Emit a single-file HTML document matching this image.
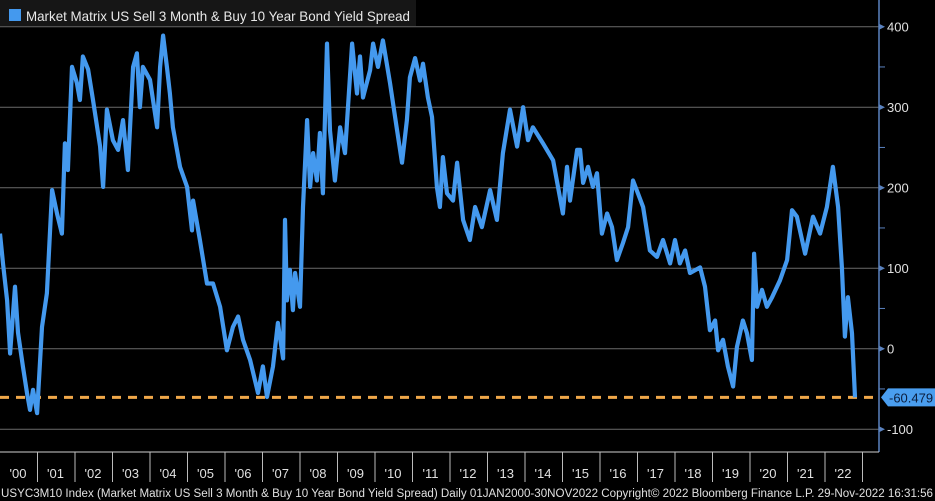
<!DOCTYPE html>
<html><head><meta charset="utf-8"><style>
html,body{margin:0;padding:0;background:#000;width:935px;height:501px;overflow:hidden}
svg{display:block;font-family:"Liberation Sans",sans-serif}
</style></head><body>
<svg id="chart" width="935" height="501" viewBox="0 0 935 501">
<rect x="0" y="0" width="935" height="501" fill="#000"/>
<g id="grid"></g>
<g id="yaxis"></g>
<g id="xaxis"></g>
<line id="refline" stroke="#f0a84a" stroke-width="3" stroke-dasharray="9,7"/>
<path id="series" fill="none" stroke="#4499ee" stroke-width="4.2" stroke-linejoin="round"/>
<g id="lastlabel"></g>
<g>
<rect x="0" y="0" width="416" height="26" fill="#161616"/>
<rect x="9" y="9" width="12" height="12" fill="#4499ee"/>
<text x="26" y="21" font-size="14" fill="#e8e8e8" textLength="384" lengthAdjust="spacingAndGlyphs">Market Matrix US Sell 3 Month &amp; Buy 10 Year Bond Yield Spread</text>
</g>
<text x="1" y="497" font-size="11.5" fill="#e0e0e0" textLength="932" lengthAdjust="spacingAndGlyphs">USYC3M10 Index (Market Matrix US Sell 3 Month &amp; Buy 10 Year Bond Yield Spread)  Daily 01JAN2000-30NOV2022  Copyright© 2022 Bloomberg Finance L.P.  29-Nov-2022 16:31:56</text>
</svg>
<script>
const years = [0,0.08,0.19,0.27,0.4,0.48,0.61,0.72,0.8,0.88,0.99,1.12,1.25,1.39,1.52,1.65,1.73,1.81,1.92,2.05,2.13,2.21,2.35,2.48,2.67,2.75,2.85,3.01,3.15,3.28,3.41,3.55,3.65,3.73,3.81,4,4.19,4.27,4.35,4.45,4.53,4.61,4.8,4.99,5.12,5.15,5.33,5.52,5.68,5.87,6.05,6.21,6.35,6.48,6.67,6.88,7.01,7.12,7.28,7.41,7.55,7.6,7.65,7.73,7.81,7.87,8,8.08,8.19,8.27,8.35,8.45,8.53,8.61,8.72,8.8,8.93,9.07,9.2,9.39,9.52,9.6,9.68,9.87,9.95,10.08,10.21,10.4,10.59,10.72,10.85,10.93,11.07,11.2,11.28,11.41,11.52,11.65,11.73,11.81,11.92,12.08,12.19,12.35,12.53,12.67,12.85,13.07,13.25,13.41,13.6,13.79,13.95,14.08,14.21,14.48,14.75,15.01,15.12,15.2,15.39,15.47,15.55,15.68,15.81,15.92,16.05,16.19,16.32,16.45,16.61,16.75,16.88,17.01,17.15,17.33,17.52,17.68,17.87,18,18.13,18.27,18.4,18.67,18.8,18.93,19.07,19.15,19.28,19.41,19.55,19.65,19.81,19.92,20.05,20.11,20.19,20.32,20.45,20.59,20.8,20.99,21.12,21.25,21.47,21.68,21.87,22.05,22.21,22.35,22.45,22.53,22.61,22.72,22.8];
const values = [143,106,60,-6,77,20,-22,-55,-76,-51,-80,27,69,197,168,143,255,222,350,330,309,363,347,309,251,201,297,259,247,284,222,350,367,300,350,334,275,350,389,350,317,275,226,201,147,184,135,81,81,52,-2,27,40,11,-14,-55,-22,-60,-22,32,-12,160,60,98,48,94,52,176,284,201,243,209,268,193,379,271,209,275,243,379,317,363,312,346,379,350,383,330,271,231,284,337,361,333,354,312,288,201,176,238,193,184,231,160,135,176,151,197,160,243,297,251,300,259,275,255,234,168,226,184,247,247,206,226,201,218,143,168,151,110,131,151,209,193,176,122,114,135,106,135,106,122,94,101,77,23,35,-2,11,-22,-47,2,35,19,-14,118,52,73,52,64,85,110,172,164,118,164,143,176,226,176,101,15,64,19,-60.479];
const yTicks = [400,300,200,100,0,-100];
const yMinor = [350,250,150,50,-50];
const yearLabels = ["'00","'01","'02","'03","'04","'05","'06","'07","'08","'09","'10","'11","'12","'13","'14","'15","'16","'17","'18","'19","'20","'21","'22"];
const lastValue = -60.479;

const NS = "http://www.w3.org/2000/svg";
const X0 = 0, PXY = 37.5, AXISX = 879;
const xScale = t => X0 + t * PXY;
const yScale = v => 348.7 - v * 0.805;
function mk(tag, attrs, parent) {
  const el = document.createElementNS(NS, tag);
  for (const k in attrs) el.setAttribute(k, attrs[k]);
  parent.appendChild(el);
  return el;
}
const grid = document.getElementById('grid');
const yaxis = document.getElementById('yaxis');
const xaxis = document.getElementById('xaxis');

const al = mk('line', {x1: AXISX, x2: AXISX, y1: 0, y2: 452, stroke: '#5a82bf', 'stroke-width': 1.5}, yaxis);



yTicks.forEach(v => {
  const y = yScale(v);
  const g = mk('line', {x1: 0, x2: AXISX, y1: y, y2: y, stroke: '#6a6a6a', 'stroke-width': 1}, grid);
  
  
  const m = mk('path', {d: `M${AXISX} ${y - 3}L${AXISX + 6} ${y}L${AXISX} ${y + 3}Z`, fill: '#5a82bf'}, yaxis);
  
  
  const t = mk('text', {x: AXISX + 8, y: y + 5, 'font-size': 13, fill: '#e0e0e0'}, yaxis);
  t.textContent = v;
  
  
});
yMinor.forEach(v => {
  const y = yScale(v);
  const m = mk('line', {x1: AXISX, x2: AXISX + 6, y1: y, y2: y, stroke: '#5a82bf', 'stroke-width': 1}, yaxis);
  
  
});

const bl = mk('line', {x1: 0, x2: AXISX, y1: 452, y2: 452, stroke: '#d0d0d0', 'stroke-width': 1}, xaxis);


yearLabels.forEach((lab, i) => {
  const xs = xScale(i + 1);
  const s = mk('line', {x1: xs, x2: xs, y1: 452, y2: 482, stroke: '#bbbbbb', 'stroke-width': 1}, xaxis);
  
  
  const t = mk('text', {x: xScale(i) + 18, y: 478, 'font-size': 13, fill: '#e0e0e0', 'text-anchor': 'middle'}, xaxis);
  t.textContent = lab;
  
  
});

let d = '';
years.forEach((t, i) => { d += (i ? 'L' : 'M') + xScale(t).toFixed(1) + ' ' + yScale(values[i]).toFixed(1); });
document.getElementById('series').setAttribute('d', d);

const ly = yScale(lastValue);
const rl = document.getElementById('refline');
rl.setAttribute('x1', 0); rl.setAttribute('x2', AXISX - 2);
rl.setAttribute('y1', ly); rl.setAttribute('y2', ly);

const lg = document.getElementById('lastlabel');
const lp = mk('path', {d: `M${AXISX + 2} ${ly}L${AXISX + 9} ${ly - 9}L935 ${ly - 9}L935 ${ly + 9}L${AXISX + 9} ${ly + 9}Z`, fill: '#4a9eef'}, lg);


const lt = mk('text', {x: AXISX + 10, y: ly + 5, 'font-size': 13, fill: '#0b1d3d'}, lg);
lt.textContent = lastValue.toFixed(3);


</script>
</body></html>
